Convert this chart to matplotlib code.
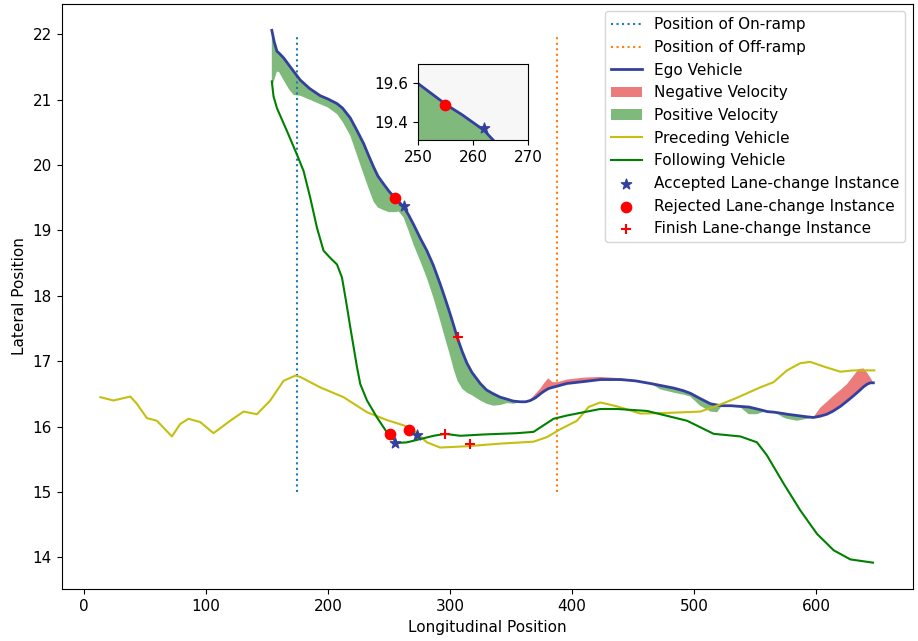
import numpy as np
import matplotlib
matplotlib.use('Agg')
import matplotlib.pyplot as plt

# ramp positions (longitudinal)
ON_RAMP = 175
OFF_RAMP = 388
RAMP_Y = (15, 22)

# ego vehicle trajectory and the shifted (velocity) boundary used for shading
ego_x = [154.0, 156.0, 158.2, 160.0, 163.6, 168.0, 172.0, 177.3, 185.0, 193.7,
         200.0, 207.4, 212.0, 218.3, 224.0, 229.2, 233.0, 237.4, 241.0, 245.6,
         250.0, 255.2, 258.0, 262.0, 266.0, 270.2, 275.7, 281.1, 286.3, 292.0,
         296.0, 300.2, 303.0, 306.2, 310.0, 313.9, 318.0, 324.8, 330.0, 335.7,
         341.2, 346.7, 352.0, 357.6, 362.0, 366.0, 370.0, 374.0, 377.0, 380.5,
         384.0, 388.0, 395.9, 410.0, 423.5, 439.6, 452.0, 464.2, 472.4, 483.3,
         491.2, 497.0, 505.0, 513.4, 518.9, 523.0, 530.0, 537.0, 544.8, 551.6,
         556.0, 560.0, 566.0, 573.2, 576.2, 584.4, 592.6, 597.8, 603.5, 609.0,
         614.2, 620.0, 625.4, 630.0, 634.9, 639.0, 642.0, 644.5, 647.0]
ego_y = [22.06, 21.88, 21.74, 21.71, 21.64, 21.53, 21.43, 21.30, 21.17, 21.06,
         21.01, 20.94, 20.87, 20.72, 20.52, 20.33, 20.16, 19.97, 19.83, 19.71,
         19.60, 19.49, 19.44, 19.36, 19.24, 19.09, 18.88, 18.69, 18.47, 18.18,
         17.96, 17.72, 17.55, 17.35, 17.15, 16.97, 16.83, 16.66, 16.56, 16.50,
         16.45, 16.42, 16.39, 16.38, 16.38, 16.40, 16.44, 16.50, 16.54, 16.58,
         16.60, 16.62, 16.66, 16.69, 16.72, 16.72, 16.70, 16.66, 16.63, 16.59,
         16.55, 16.51, 16.43, 16.35, 16.33, 16.32, 16.32, 16.31, 16.30, 16.27,
         16.25, 16.23, 16.22, 16.20, 16.19, 16.17, 16.15, 16.14, 16.16, 16.19,
         16.24, 16.31, 16.39, 16.46, 16.54, 16.61, 16.65, 16.67, 16.67]
ego_bound = [21.20, 21.30, 21.43, 21.42, 21.30, 21.16, 21.07, 21.06, 21.00, 20.93,
             20.88, 20.78, 20.66, 20.45, 20.14, 19.86, 19.66, 19.44, 19.35, 19.31,
             19.28, 19.28, 19.29, 19.20, 19.00, 18.78, 18.53, 18.27, 17.98, 17.62,
             17.35, 17.08, 16.88, 16.70, 16.58, 16.52, 16.48, 16.40, 16.35, 16.32,
             16.33, 16.36, 16.35, 16.37, 16.38, 16.42, 16.50, 16.58, 16.66, 16.74,
             16.68, 16.68, 16.72, 16.75, 16.76, 16.74, 16.71, 16.66, 16.57, 16.52,
             16.49, 16.46, 16.32, 16.23, 16.22, 16.32, 16.32, 16.31, 16.19, 16.19,
             16.22, 16.23, 16.22, 16.14, 16.12, 16.09, 16.12, 16.14, 16.29, 16.38,
             16.47, 16.56, 16.65, 16.76, 16.88, 16.89, 16.82, 16.75, 16.67]

# preceding vehicle
pre_x = [13.5, 24.3, 38.0, 43.4, 51.6, 59.8, 72.1, 78.9, 85.7, 95.3,
         106.2, 119.9, 130.8, 141.8, 152.7, 163.6, 173.2, 177.3, 193.7, 212.8,
         232.0, 248.4, 262.0, 270.2, 281.1, 292.0, 313.9, 341.2, 368.5, 379.5,
         390.4, 404.1, 413.6, 423.2, 436.9, 456.0, 477.9, 505.2, 518.9, 532.5,
         554.3, 565.2, 576.2, 587.1, 595.3, 606.2, 619.9, 630.8, 647.8]
pre_y = [16.45, 16.40, 16.46, 16.35, 16.13, 16.09, 15.85, 16.04, 16.12, 16.07,
         15.90, 16.09, 16.23, 16.19, 16.40, 16.70, 16.78, 16.76, 16.60, 16.45,
         16.22, 16.10, 16.02, 15.94, 15.76, 15.68, 15.70, 15.74, 15.77, 15.84,
         15.96, 16.09, 16.30, 16.37, 16.31, 16.20, 16.21, 16.23, 16.32, 16.42,
         16.60, 16.68, 16.86, 16.97, 16.99, 16.92, 16.84, 16.86, 16.86]

# following vehicle
fol_x = [154.0, 155.4, 158.2, 166.4, 174.6, 180.0, 185.5, 191.0, 196.4, 201.9,
         207.4, 211.5, 215.0, 218.3, 223.8, 226.5, 232.0, 240.2, 248.4, 256.6,
         264.8, 275.7, 286.6, 296.1, 308.4, 327.5, 354.9, 368.5, 376.7, 384.9,
         395.9, 409.5, 423.2, 436.9, 461.5, 494.3, 516.1, 538.0, 551.6, 559.8,
         573.4, 587.1, 600.8, 614.4, 628.1, 646.7]
fol_y = [21.28, 21.05, 20.87, 20.52, 20.16, 19.91, 19.50, 19.04, 18.69, 18.58,
         18.48, 18.28, 17.90, 17.52, 16.91, 16.65, 16.40, 16.14, 15.91, 15.75,
         15.76, 15.81, 15.86, 15.89, 15.86, 15.88, 15.90, 15.92, 16.02, 16.12,
         16.17, 16.22, 16.27, 16.27, 16.24, 16.09, 15.89, 15.85, 15.76, 15.56,
         15.13, 14.72, 14.36, 14.11, 13.97, 13.92]

# lane-change instances
acc_x = [262.0, 255.3, 272.9]
acc_y = [19.37, 15.75, 15.87]
rej_x = [255.0, 250.5, 266.1]
rej_y = [19.49, 15.88, 15.95]
fin_x = [306.2, 296.1, 316.1]
fin_y = [17.37, 15.89, 15.73]

EGO_C = '#34409e'
POS_C = '#7fb97b'
NEG_C = '#ec7b7b'
PRE_C = '#c4bf10'


def draw_ego(ax):
    x = np.array(ego_x)
    y = np.array(ego_y)
    b = np.array(ego_bound)
    neg = ax.fill_between(x, y, b, where=b >= y, interpolate=True,
                          color=NEG_C, linewidth=0)
    pos = ax.fill_between(x, y, b, where=b <= y, interpolate=True,
                          color=POS_C, linewidth=0)
    line, = ax.plot(x, y, color=EGO_C, linewidth=2)
    return line, neg, pos


def main():
    plt.rcParams['font.size'] = 11
    fig = plt.figure(figsize=(9.18, 6.41), dpi=100)
    ax = fig.add_axes([0.0672, 0.0807, 0.9274, 0.9135])

    ax.vlines(ON_RAMP, *RAMP_Y, colors='C0', linestyles='dotted')
    ax.vlines(OFF_RAMP, *RAMP_Y, colors='C1', linestyles='dotted')
    ego_line, neg, pos = draw_ego(ax)
    pre_line, = ax.plot(pre_x, pre_y, color=PRE_C, linewidth=1.5)
    fol_line, = ax.plot(fol_x, fol_y, color='g', linewidth=1.5)
    acc = ax.scatter(acc_x, acc_y, marker='*', s=60, color=EGO_C, zorder=5)
    rej = ax.scatter(rej_x, rej_y, marker='o', s=55, color='red', zorder=4)
    fin = ax.scatter(fin_x, fin_y, marker='+', s=60, color='red', zorder=5)

    ax.set_xlabel('Longitudinal Position')
    ax.set_ylabel('Lateral Position')

    # dotted legend handles for the ramps
    on_h, = ax.plot([], [], color='C0', linestyle=':')
    off_h, = ax.plot([], [], color='C1', linestyle=':')
    ax.legend([on_h, off_h, ego_line, neg, pos, pre_line, fol_line, acc, rej, fin],
              ['Position of On-ramp', 'Position of Off-ramp', 'Ego Vehicle',
               'Negative Velocity', 'Positive Velocity', 'Preceding Vehicle',
               'Following Vehicle', 'Accepted Lane-change Instance',
               'Rejected Lane-change Instance', 'Finish Lane-change Instance'],
              loc='upper right')

    # zoomed inset around the first lane-change attempt
    axins = fig.add_axes([0.4553, 0.7816, 0.1198, 0.1186])
    axins.set_facecolor('#f7f7f7')
    draw_ego(axins)
    axins.scatter(acc_x[:1], acc_y[:1], marker='*', s=60, color=EGO_C, zorder=5)
    axins.scatter(rej_x[:1], rej_y[:1], marker='o', s=55, color='red', zorder=4)
    axins.set_xlim(250, 270)
    axins.set_ylim(19.31, 19.70)
    axins.set_xticks([250, 260, 270])
    axins.set_yticks([19.4, 19.6])

    fig.savefig('out.png', dpi=100)


if __name__ == '__main__':
    main()
